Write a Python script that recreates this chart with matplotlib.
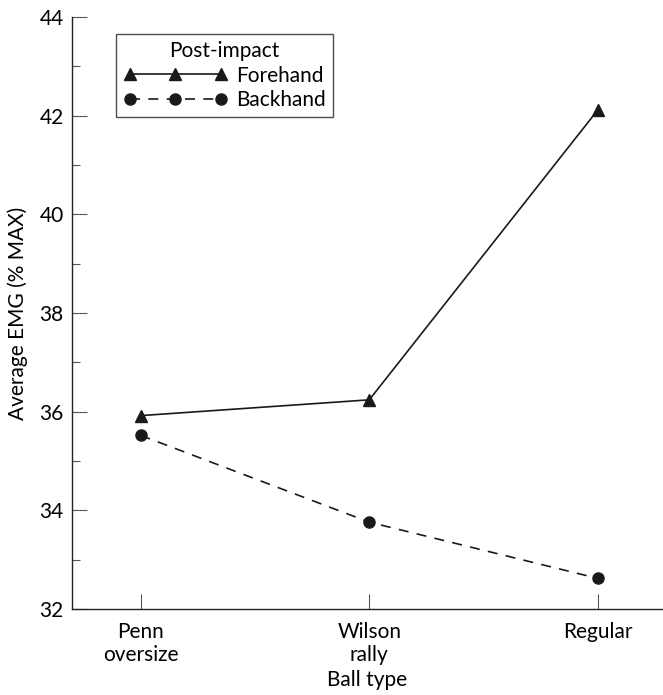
import matplotlib
matplotlib.use("Agg")
import matplotlib.pyplot as plt
from matplotlib.ticker import MultipleLocator

# Data
ball_types = ["Penn\noversize", "Wilson\nrally", "Regular"]
forehand = [35.92, 36.24, 42.12]
backhand = [35.52, 33.76, 32.62]

plt.rcParams['font.family'] = ['Lato', 'DejaVu Sans']

fig = plt.figure(figsize=(6.63, 6.95), dpi=100)
ax = fig.add_axes([72 / 663, 1 - 609 / 695, 590 / 663, 592 / 695])

x = range(len(ball_types))
ax.plot(x, forehand, color='#1a1a1a', lw=1.2, marker='^', ms=8.5,
        label='Forehand')
ax.plot(x, backhand, color='#1a1a1a', lw=1.2, marker='o', ms=8,
        dashes=(6, 5), label='Backhand')

ax.set_xlim(-0.30, 2.28)
ax.set_ylim(32, 44)
ax.set_xticks(list(x))
ax.set_xticklabels(ball_types, fontsize=15, linespacing=1.2)
ax.yaxis.set_major_locator(MultipleLocator(2))
ax.yaxis.set_minor_locator(MultipleLocator(1))
ax.tick_params(axis='both', which='major', direction='in', length=11,
               width=0.8, color='#555555', labelsize=15, pad=6)
ax.tick_params(axis='y', which='minor', direction='in', length=6,
               width=0.8, color='#555555')
ax.tick_params(axis='x', pad=9)

for side in ['top', 'right']:
    ax.spines[side].set_visible(False)
for side in ['left', 'bottom']:
    ax.spines[side].set_linewidth(1.0)
    ax.spines[side].set_color('#222222')

ax.set_ylabel("Average EMG (% MAX)", fontsize=15, labelpad=8)
ax.set_xlabel("Ball type", fontsize=15, labelpad=4)

leg = ax.legend(title="Post-impact", loc='upper left',
                bbox_to_anchor=(0.0746, 0.971), borderaxespad=0,
                numpoints=3, handlelength=5.0, fontsize=15,
                title_fontsize=15, fancybox=False, frameon=True,
                handletextpad=0.4, labelspacing=0.2, borderpad=0.35)
leg.get_frame().set_edgecolor('#222222')
leg.get_frame().set_linewidth(1.0)

fig.savefig("out.png", dpi=100)
